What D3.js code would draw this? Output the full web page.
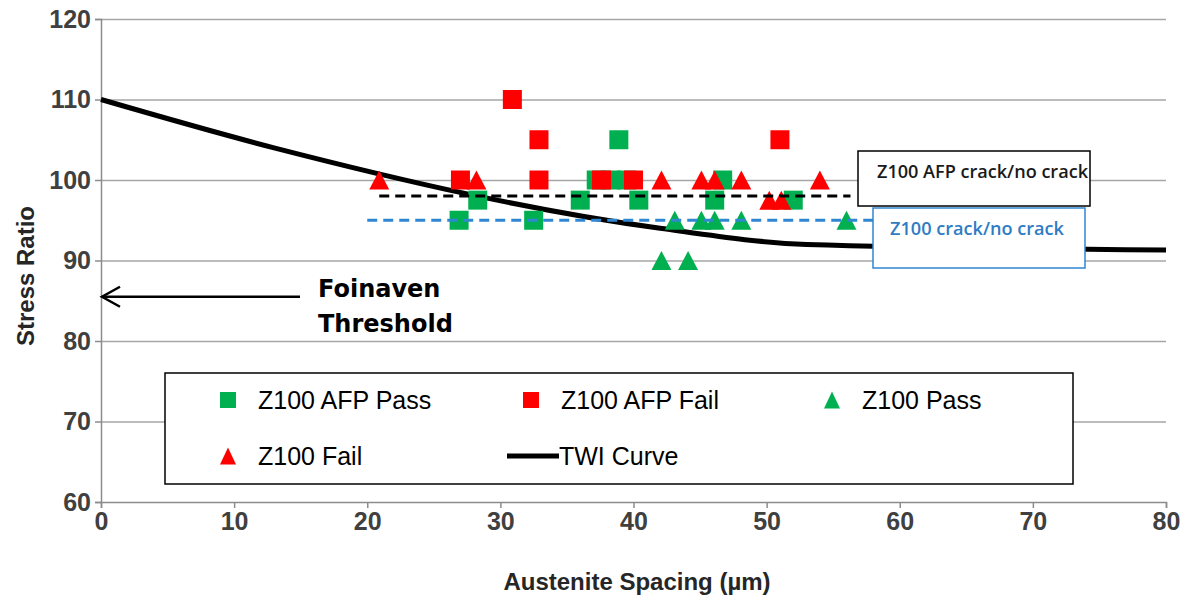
<!DOCTYPE html>
<html lang="en">
<head>
<meta charset="UTF-8">
<title>Stress Ratio vs Austenite Spacing</title>
<script src="https://d3js.org/d3.v7.min.js"></script>
<style>
  body { margin: 0; background: #fff; }
  svg { display: block; font-family: Arial, "Liberation Sans", sans-serif; }
  .grid line { stroke: #a6a6a6; stroke-width: 1.5px; }
  .grid .domain { display: none; }
  .axis path, .axis line { stroke: #8c8c8c; stroke-width: 1.5px; }
  .axis text { font-weight: bold; fill: #404040; font-size: 25px; font-family: Arial, "Liberation Sans", sans-serif; }
  .title { font-weight: bold; fill: #262626; font-size: 24px; }
  .legend text { font-size: 25px; fill: #000; }
</style>
</head>
<body>
<svg id="chart" width="1186" height="604"></svg>
<script>
// axis ticks
const xTicks = [0, 10, 20, 30, 40, 50, 60, 70, 80];
const yTicks = [60, 70, 80, 90, 100, 110, 120];

// [austenite spacing, stress ratio]
const afpPass = [[26.9, 95], [32.5, 95], [28.3, 97.5], [36.0, 97.5], [40.4, 97.5], [46.1, 97.5], [52.0, 97.5],
                 [37.2, 100], [38.3, 100], [39.5, 100], [46.7, 100], [38.9, 105]];
const afpFail = [[27.0, 100], [30.9, 110], [32.9, 105], [32.9, 100], [37.6, 100], [40.0, 100], [51.0, 105]];
const z100Pass = [[43.1, 95], [45.1, 95], [46.1, 95], [48.1, 95], [56.0, 95], [42.1, 90], [44.1, 90]];
const z100Fail = [[20.9, 100], [28.2, 100], [42.1, 100], [45.1, 100], [46.1, 100], [48.1, 100], [54.0, 100],
                  [50.2, 97.5], [51.1, 97.5]];
const twiX = [0, 13, 42, 53, 80];
const twiY = [110, 104, 94, 92, 91.3];

// crack/no crack reference lines: [x start, x end, stress ratio]
const afpCrackLine = [20.9, 56.3, 98];
const z100CrackLine = [20.0, 58, 95];
const foinavenThreshold = 85.5;

const green = "#00b050", red = "#ff0000", blue = "#2f86d1";

const svg = d3.select("#chart");
const x = d3.scaleLinear().domain([0, 80]).range([101, 1166]);
const y = d3.scaleLinear().domain([60, 120]).range([502, 19]);

// gridlines
svg.append("g")
   .attr("class", "grid")
   .attr("transform", "translate(101,0)")
   .call(d3.axisLeft(y).tickValues(yTicks.slice(1)).tickSize(-1065).tickFormat(""));

// axes
svg.append("g")
   .attr("class", "axis")
   .attr("transform", "translate(101,0)")
   .call(d3.axisLeft(y).tickValues(yTicks).tickSizeOuter(0).tickSize(6).tickPadding(4));

svg.append("g")
   .attr("class", "axis")
   .attr("transform", "translate(0,502)")
   .call(d3.axisBottom(x).tickValues(xTicks).tickSizeOuter(0).tickSize(6).tickPadding(4))
   .selectAll("text").attr("font-size", 23);

svg.append("text").attr("class", "title")
   .attr("x", 637).attr("y", 590).attr("text-anchor", "middle")
   .text("Austenite Spacing (µm)");

svg.append("text").attr("class", "title")
   .attr("transform", "translate(34,276) rotate(-90)")
   .attr("text-anchor", "middle").attr("font-size", 26)
   .text("Stress Ratio");

// TWI curve
const line = d3.line().x(d => x(d[0])).y(d => y(d[1])).curve(d3.curveMonotoneX);
svg.append("path")
   .datum(twiX.map((v, i) => [v, twiY[i]]))
   .attr("d", line)
   .attr("fill", "none").attr("stroke", "#000").attr("stroke-width", 5);

// markers
function square(s) {
  return `M${-s / 2},${-s / 2}h${s}v${s}h${-s}Z`;
}
function triangle(w, h) {
  return `M0,${-h / 2}L${w / 2},${h / 2}L${-w / 2},${h / 2}Z`;
}

function drawSeries(data, path, color) {
  svg.append("g").selectAll("path")
     .data(data).enter().append("path")
     .attr("transform", d => `translate(${x(d[0])},${y(d[1])})`)
     .attr("d", path)
     .attr("fill", color);
}
drawSeries(afpPass, square(19), green);
drawSeries(afpFail, square(19), red);
drawSeries(z100Pass, triangle(20, 19), green);
drawSeries(z100Fail, triangle(20, 19), red);

// crack / no crack lines
svg.append("line")
   .attr("x1", x(afpCrackLine[0])).attr("x2", x(afpCrackLine[1]))
   .attr("y1", y(afpCrackLine[2])).attr("y2", y(afpCrackLine[2]))
   .attr("stroke", "#000").attr("stroke-width", 3).attr("stroke-dasharray", "10,6");
svg.append("line")
   .attr("x1", x(z100CrackLine[0])).attr("x2", x(z100CrackLine[1]))
   .attr("y1", y(z100CrackLine[2])).attr("y2", y(z100CrackLine[2]))
   .attr("stroke", blue).attr("stroke-width", 3).attr("stroke-dasharray", "10,6");

// text boxes
svg.append("rect").attr("x", 858).attr("y", 151).attr("width", 232).attr("height", 55)
   .attr("fill", "#fff").attr("stroke", "#000").attr("stroke-width", 1.5);
svg.append("text").attr("x", 877).attr("y", 178)
   .attr("font-family", "'Open Sans', sans-serif").attr("font-size", 18).attr("font-weight", 600)
   .attr("fill", "#1a1a1a")
   .attr("textLength", 211).attr("lengthAdjust", "spacingAndGlyphs")
   .text("Z100 AFP crack/no crack");

svg.append("rect").attr("x", 873).attr("y", 208).attr("width", 212).attr("height", 60)
   .attr("fill", "#fff").attr("stroke", blue).attr("stroke-width", 1.5);
svg.append("text").attr("x", 890).attr("y", 235)
   .attr("font-family", "'Open Sans', sans-serif").attr("font-size", 18).attr("font-weight", 600)
   .attr("fill", "#2e7cc4")
   .attr("textLength", 174).attr("lengthAdjust", "spacingAndGlyphs")
   .text("Z100 crack/no crack");

// Foinaven threshold arrow
const ay = y(foinavenThreshold);
svg.append("line").attr("x1", 300).attr("x2", x(0) + 1).attr("y1", ay).attr("y2", ay)
   .attr("stroke", "#000").attr("stroke-width", 2.5);
svg.append("path")
   .attr("d", `M${x(0) + 19},${ay - 10}L${x(0) + 1},${ay}L${x(0) + 19},${ay + 10}`)
   .attr("fill", "none").attr("stroke", "#000").attr("stroke-width", 2.5);
svg.append("text").attr("x", 318).attr("y", 297)
   .attr("font-family", "'DejaVu Sans', sans-serif").attr("font-weight", "bold").attr("font-size", 24)
   .text("Foinaven");
svg.append("text").attr("x", 318).attr("y", 332)
   .attr("font-family", "'DejaVu Sans', sans-serif").attr("font-weight", "bold").attr("font-size", 24)
   .text("Threshold");

// legend
const legendNames = ["Z100 AFP Pass", "Z100 AFP Fail", "Z100 Pass", "Z100 Fail", "TWI Curve"];
const legendColors = [green, red, green, red, "#000"];
const legendKinds = ["square", "square", "triangle", "triangle", "line"];
const legendCols = [228, 531, 832];
const legendRows = [400, 456];

const legend = svg.append("g").attr("class", "legend");
legend.append("rect").attr("x", 165).attr("y", 373).attr("width", 908).attr("height", 111)
      .attr("fill", "#fff").attr("stroke", "#000").attr("stroke-width", 1.5);

legendNames.forEach((name, i) => {
  const cx = legendCols[i % 3], cy = legendRows[Math.floor(i / 3)];
  const kind = legendKinds[i];
  if (kind === "line") {
    legend.append("line").attr("x1", cx - 24).attr("x2", cx + 28).attr("y1", cy).attr("y2", cy)
          .attr("stroke", legendColors[i]).attr("stroke-width", 5);
    legend.append("text").attr("x", cx + 28).attr("y", cy + 9).text(name);
  } else {
    legend.append("path")
          .attr("transform", `translate(${cx},${cy})`)
          .attr("d", kind === "square" ? square(16) : triangle(16, 17))
          .attr("fill", legendColors[i]);
    legend.append("text").attr("x", cx + 30).attr("y", cy + 9).text(name);
  }
});
</script>
</body>
</html>
